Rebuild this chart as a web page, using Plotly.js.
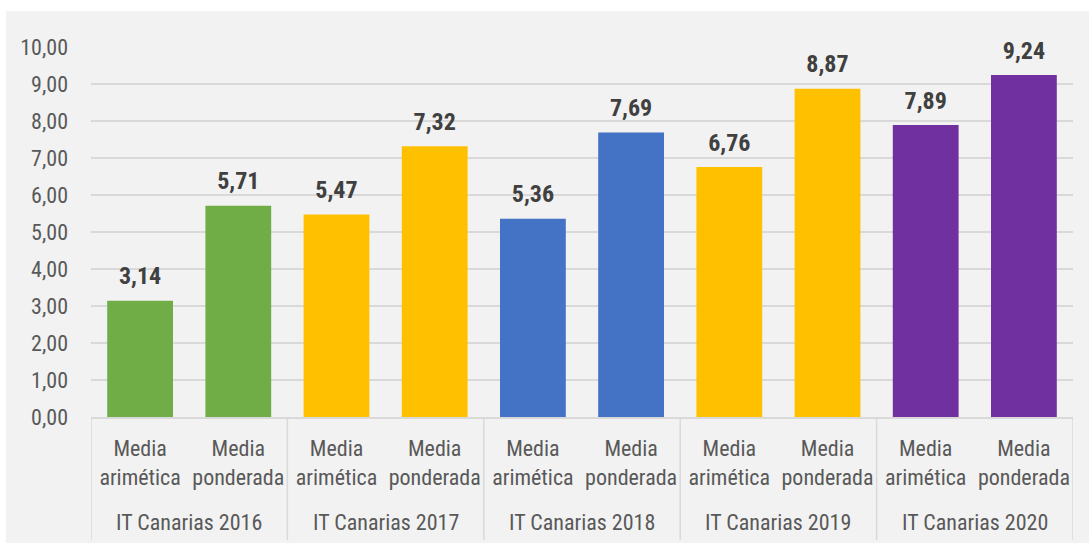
<!DOCTYPE html>
<html>
<head>
<meta charset="utf-8">
<script src="https://cdn.plot.ly/plotly-3.0.1.min.js"></script>
<style>
  html, body { margin: 0; padding: 0; background: #ffffff; }
  #chart { position: absolute; left: 6px; top: 11px; width: 1083px; height: 532px; }
</style>
</head>
<body>
<div id="chart"></div>
<script>
const groups = ["IT Canarias 2016", "IT Canarias 2017", "IT Canarias 2018", "IT Canarias 2019", "IT Canarias 2020"];
const subcats = ["Media<br>arimética", "Media<br>ponderada"];
const values = [3.14, 5.71, 5.47, 7.32, 5.36, 7.69, 6.76, 8.87, 7.89, 9.24];
const groupColors = ["#70ad47", "#ffc000", "#4472c4", "#ffc000", "#7030a0"];

const FONT = "'Liberation Sans Narrow', 'Roboto Condensed', 'DejaVu Sans Condensed', Roboto, sans-serif";

const keys = [], tickText = [], colors = [];
groups.forEach((g, i) => {
  subcats.forEach(s => { keys.push(g + "|" + s); tickText.push(s); colors.push(groupColors[i]); });
});

const bars = {
  type: "bar",
  x: keys,
  y: values,
  marker: { color: colors },
  hoverinfo: "skip"
};
const labels = {
  type: "scatter",
  mode: "markers+text",
  x: keys,
  y: values,
  texttemplate: "%{y:.2f}",
  textposition: "top center",
  marker: { size: 15, opacity: 0 },
  textfont: { family: FONT, size: 24, color: "#404040", weight: "bold" },
  hoverinfo: "skip",
  cliponaxis: false
};

const plotH = 370;
const shapes = [];
const annotations = [];
groups.forEach((g, i) => {
  const start = i * subcats.length - 0.5;
  shapes.push({ type: "line", xref: "x", yref: "paper", x0: start, x1: start, y0: 0, y1: -123 / plotH,
                line: { color: "#d9d9d9", width: 1.5 } });
  annotations.push({ xref: "x", yref: "paper", x: start + subcats.length / 2, y: -105 / plotH,
                     xanchor: "center", yanchor: "middle", showarrow: false, text: g,
                     font: { family: FONT, size: 22, color: "#595959" } });
});
shapes.push({ type: "line", xref: "x", yref: "paper", x0: keys.length - 0.5, x1: keys.length - 0.5, y0: 0, y1: -123 / plotH,
              line: { color: "#d9d9d9", width: 1.5 } });

const layout = {
  width: 1083, height: 532,
  margin: { l: 85, r: 16, t: 36, b: 126 },
  paper_bgcolor: "#f2f2f2",
  plot_bgcolor: "#f2f2f2",
  separators: ",.",
  showlegend: false,
  bargap: 0.33,
  font: { family: FONT, color: "#595959", size: 22 },
  xaxis: {
    type: "category",
    range: [-0.5, keys.length - 0.5],
    tickvals: keys,
    ticktext: tickText,
    showline: true, linecolor: "#d9d9d9", linewidth: 1.5,
    showgrid: false,
    ticks: "",
    ticklabelstandoff: 11,
    tickfont: { family: FONT, size: 22, color: "#595959" }
  },
  yaxis: {
    range: [0, 10],
    dtick: 1,
    tickformat: ".2f",
    gridcolor: "#d9d9d9", gridwidth: 1.5,
    zeroline: false,
    ticks: "",
    ticklabelstandoff: 22,
    tickfont: { family: FONT, size: 22, color: "#595959" }
  },
  shapes: shapes,
  annotations: annotations
};

Plotly.newPlot("chart", [bars, labels], layout, { displayModeBar: false, staticPlot: true });
</script>
</body>
</html>
